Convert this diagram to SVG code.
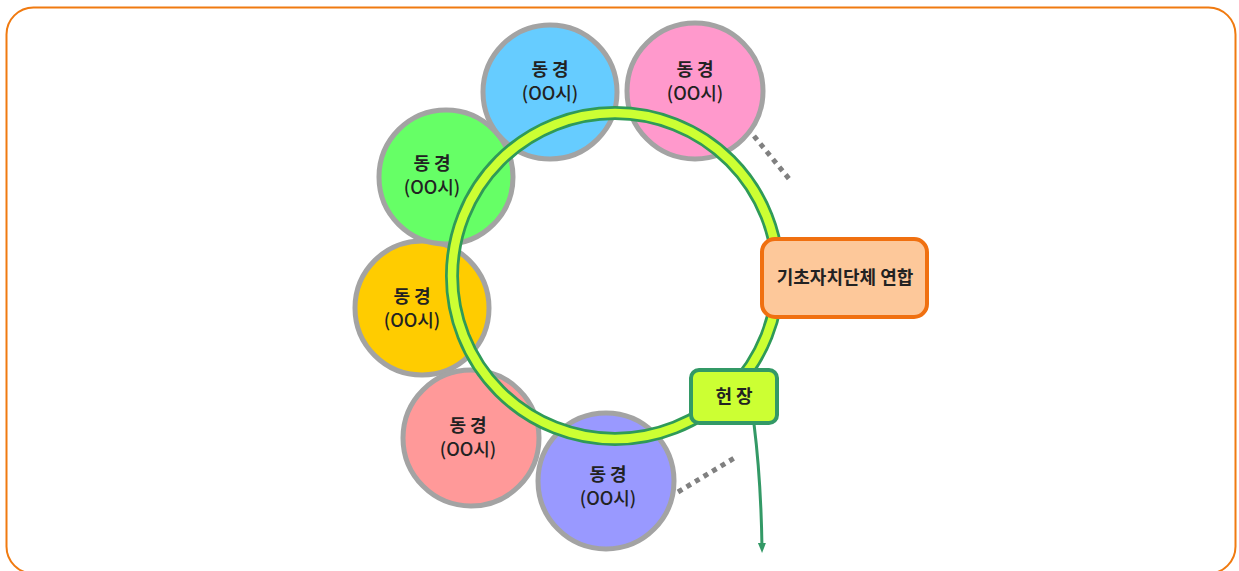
<svg xmlns="http://www.w3.org/2000/svg" width="1239" height="571" viewBox="0 0 1239 571">
<defs>
<style>
.c{stroke:#a3a3a3;stroke-width:5}
.t1{font-family:"Noto Sans CJK KR","Noto Sans",sans-serif;font-weight:bold;font-size:18px;fill:#222;text-anchor:middle}
.t2{font-family:"Noto Sans CJK KR","Noto Sans",sans-serif;font-weight:500;font-size:18px;fill:#222;text-anchor:middle}
.dot{stroke:#808080;stroke-width:5;stroke-dasharray:5 5;fill:none}
</style>
<marker id="ah" markerWidth="10" markerHeight="10" refX="5" refY="5" orient="auto" markerUnits="userSpaceOnUse">
<path d="M0,1 L10,5 L0,9 Z" fill="#339966"/>
</marker>
</defs>
<rect x="6.5" y="7.5" width="1229" height="566" rx="27" fill="#fff" stroke="#f07a10" stroke-width="2"/>
<g id="connectors">
<line class="dot" x1="754" y1="136" x2="790" y2="180"/>
<line class="dot" x1="678" y1="492" x2="736" y2="457"/>
<path d="M754,424 Q761,480 762,548" fill="none" stroke="#339966" stroke-width="3" marker-end="url(#ah)"/>
</g>
<g id="n-yellow"><circle class="c" cx="422" cy="308" r="67" fill="#ffcc00"/><text class="t1" x="412" y="303">동 경</text><text class="t2" x="412" y="327">(OO시)</text></g>
<g id="n-green"><circle class="c" cx="446" cy="177" r="67" fill="#66ff66"/><text class="t1" x="432" y="170">동 경</text><text class="t2" x="432" y="194">(OO시)</text></g>
<g id="n-blue"><circle class="c" cx="550" cy="92" r="67" fill="#66ccff"/><text class="t1" x="550" y="76">동 경</text><text class="t2" x="550" y="100">(OO시)</text></g>
<g id="n-pink"><circle class="c" cx="695" cy="91" r="68" fill="#ff99cc"/><text class="t1" x="695" y="76">동 경</text><text class="t2" x="695" y="100">(OO시)</text></g>
<g id="n-salmon"><circle class="c" cx="471" cy="438" r="68" fill="#ff9999"/><text class="t1" x="468" y="432">동 경</text><text class="t2" x="468" y="456">(OO시)</text></g>
<g id="n-purple"><circle class="c" cx="606" cy="481" r="68" fill="#9999ff"/><text class="t1" x="608" y="481">동 경</text><text class="t2" x="608" y="505">(OO시)</text></g>
<g id="ring">
<circle cx="615" cy="276" r="163" fill="none" stroke="#2f9a58" stroke-width="14"/>
<circle cx="615" cy="276" r="163" fill="none" stroke="#ccff33" stroke-width="8.5"/>
</g>
<g id="n-union"><rect x="762" y="239" width="165" height="78" rx="13" fill="#fdc89a" stroke="#f07010" stroke-width="4"/><text class="t1" x="845" y="284">기초자치단체 연합</text></g>
<g id="n-charter"><rect x="691" y="370" width="86" height="53" rx="8" fill="#ccff33" stroke="#339966" stroke-width="4"/><text class="t1" x="734" y="403">헌 장</text></g>
</svg>
